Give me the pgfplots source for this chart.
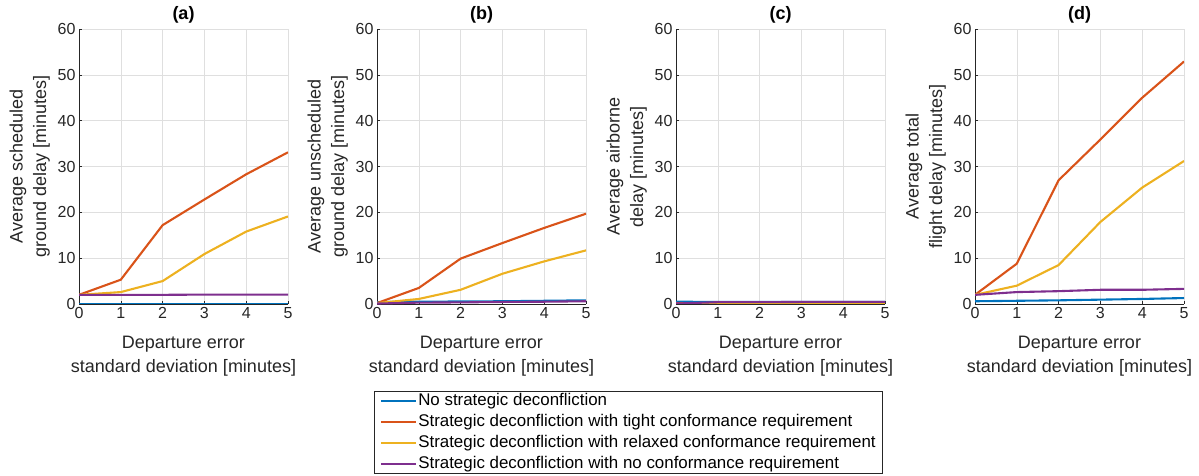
\documentclass[border=0pt]{standalone}
\usepackage{pgfplots}
\pgfplotsset{compat=1.18}
\usepackage{fontspec}
\setmainfont{Liberation Sans}

\definecolor{mblue}{rgb}{0,0.447,0.741}
\definecolor{morange}{rgb}{0.85,0.325,0.098}
\definecolor{myellow}{rgb}{0.929,0.694,0.125}
\definecolor{mpurple}{rgb}{0.494,0.184,0.556}
\definecolor{axgray}{rgb}{0.15,0.15,0.15}

\pgfplotsset{
  panel/.style={
    scale only axis, width=209pt, height=275pt,
    anchor=north west,
    xmin=0, xmax=5, ymin=0, ymax=60,
    xtick={0,...,5}, ytick={0,10,...,60},
    axis lines=left, axis line style={-, axgray, line width=0.6pt},
    tick align=inside, major tick length=3pt,
    tick style={axgray, line width=0.5pt},
    grid=major, grid style={gray!25, line width=0.6pt},
    /pgf/number format/assume math mode=true,
    tick label style={font=\fontsize{16}{19}\selectfont, text=axgray},
    label style={font=\fontsize{18}{23.5}\selectfont, text=axgray, align=center},
    xlabel={Departure error\\standard deviation [minutes]},
    xlabel style={at={(axis description cs:0.5,0)}, anchor=north, yshift=-29pt},
    ylabel style={at={(axis description cs:-0.122,0.5)}, anchor=south},
    title style={font=\bfseries\fontsize{18}{22}\selectfont, at={(axis description cs:0.5,1)}, anchor=south, yshift=-4pt},
    every axis plot/.append style={line width=2.1pt},
  }
}

\begin{document}
\begin{tikzpicture}
\path[use as bounding box] (0pt,0pt) rectangle (1199pt,-476pt);

% (a)
\begin{axis}[panel, at={(79pt,-29pt)}, title={(a)},
  ylabel={Average scheduled\\ground delay [minutes]}]
  \addplot[mblue] coordinates {(0,0.05)(1,0.05)(2,0.05)(3,0.05)(4,0.05)(5,0.05)};
  \addplot[morange] coordinates {(0,2.0)(1,5.3)(2,17.2)(3,22.8)(4,28.3)(5,33.1)};
  \addplot[myellow] coordinates {(0,2.0)(1,2.6)(2,5.0)(3,10.9)(4,15.8)(5,19.1)};
  \addplot[mpurple] coordinates {(0,2.0)(1,2.0)(2,2.0)(3,2.05)(4,2.05)(5,2.05)};
\end{axis}

% (b)
\begin{axis}[panel, at={(377pt,-29pt)}, title={(b)},
  ylabel={Average unscheduled\\ground delay [minutes]},
  legend style={at={(axis description cs:-0.0144,-0.3165)}, anchor=north west,
    draw=axgray, line width=0.6pt, fill=white,
    font=\fontsize{16.9}{19}\selectfont, text=black,
    cells={anchor=west}, row sep=3pt, inner ysep=0.5pt, inner xsep=6pt,
    nodes={inner sep=1pt, text depth=3pt, text height=13pt}},
  legend image code/.code={\draw[#1, line width=2pt] (-3pt,0pt) -- (32pt,0pt);}]
  \addplot[mblue] coordinates {(0,0.4)(1,0.5)(2,0.55)(3,0.6)(4,0.7)(5,0.8)};
  \addplot[morange] coordinates {(0,0.2)(1,3.5)(2,9.9)(3,13.3)(4,16.6)(5,19.7)};
  \addplot[myellow] coordinates {(0,0.2)(1,1.1)(2,3.1)(3,6.6)(4,9.3)(5,11.7)};
  \addplot[mpurple] coordinates {(0,0.1)(1,0.3)(2,0.35)(3,0.45)(4,0.5)(5,0.6)};
  \legend{No strategic deconfliction,
    Strategic deconfliction with tight conformance requirement,
    Strategic deconfliction with relaxed conformance requirement\hspace{8pt},
    Strategic deconfliction with no conformance requirement}
\end{axis}

% (c)
\begin{axis}[panel, at={(676pt,-29pt)}, title={(c)},
  ylabel={Average airborne\\delay [minutes]}]
  \addplot[mblue] coordinates {(0,0.5)(1,0.45)(2,0.45)(3,0.45)(4,0.45)(5,0.45)};
  \addplot[morange] coordinates {(0,0.1)(1,0.1)(2,0.1)(3,0.1)(4,0.1)(5,0.1)};
  \addplot[myellow] coordinates {(0,0.05)(1,0.05)(2,0.05)(3,0.05)(4,0.05)(5,0.05)};
  \addplot[mpurple] coordinates {(0,0.1)(1,0.4)(2,0.4)(3,0.45)(4,0.45)(5,0.45)};
\end{axis}

% (d)
\begin{axis}[panel, at={(975pt,-29pt)}, title={(d)},
  ylabel={Average total\\flight delay [minutes]}]
  \addplot[mblue] coordinates {(0,0.6)(1,0.7)(2,0.8)(3,0.95)(4,1.1)(5,1.3)};
  \addplot[morange] coordinates {(0,2.0)(1,8.8)(2,27.0)(3,35.9)(4,45.0)(5,52.9)};
  \addplot[myellow] coordinates {(0,2.0)(1,4.0)(2,8.5)(3,17.9)(4,25.4)(5,31.2)};
  \addplot[mpurple] coordinates {(0,2.0)(1,2.6)(2,2.8)(3,3.1)(4,3.1)(5,3.3)};
\end{axis}
\end{tikzpicture}
\end{document}
